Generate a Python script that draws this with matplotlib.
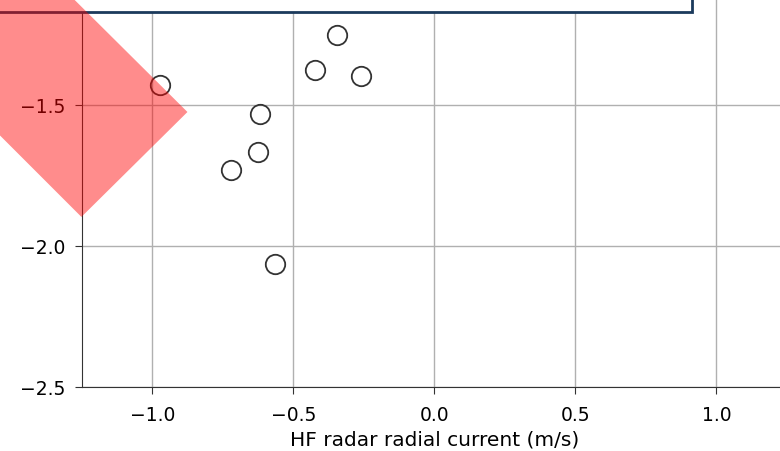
import matplotlib
matplotlib.use("Agg")
import matplotlib.pyplot as plt
from matplotlib.patches import Polygon, Rectangle

# HF radar radial current vs. matched values
radar_x = [-0.972, -0.346, -0.424, -0.261, -0.619, -0.626, -0.721, -0.567]
other_y = [-1.429, -1.252, -1.375, -1.398, -1.532, -1.668, -1.729, -2.065]

# red footprint corners (data units)
zone_x = [-0.876, -1.252, -2.138, -1.762]
zone_y = [-1.525, -1.897, -1.011, -0.645]

xticks = [-1.0, -0.5, 0.0, 0.5, 1.0]
yticks = [-2.5, -2.0, -1.5]

fig = plt.figure(figsize=(7.8, 4.52), dpi=100)
ax = fig.add_axes([0.1051, 0.1416, 0.9038, 0.936])

ax.plot(radar_x, other_y, "o", ms=14, mfc="none", mec="#333333", mew=1.3, zorder=3)

ax.set_xlim(-1.25, 1.25)
ax.set_ylim(-2.5, -1.0)
ax.set_xticks(xticks)
ax.set_yticks(yticks)
ax.grid(True, color="#b0b0b0", lw=1)
ax.set_axisbelow(True)
for s in ax.spines.values():
    s.set_color("#333333")
ax.tick_params(labelsize=13.5, length=5, color="#333333")
ax.tick_params(axis="x", pad=8)
ax.tick_params(axis="y", pad=7)
ax.set_xlabel("HF radar radial current (m/s)", fontsize=14.5, labelpad=4)

# legend frame sticking in from above
ax.add_patch(Rectangle((-0.2, 0.8865), 1.065, 0.2, transform=ax.transAxes,
                       fill=True, fc="white", ec="#1b3a5c", lw=2,
                       clip_on=False, zorder=4))

ax.add_patch(Polygon(list(zip(zone_x, zone_y)), closed=True, fc="red",
                     ec="none", alpha=0.45, clip_on=False, zorder=5))

fig.savefig("out.png", dpi=100)
